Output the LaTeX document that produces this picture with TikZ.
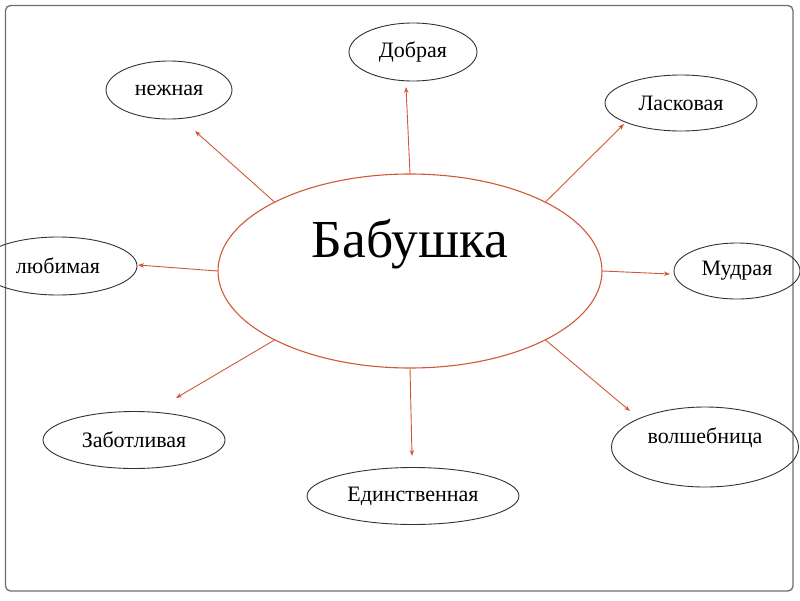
\documentclass[tikz,border=0pt]{standalone}
\usepackage{fontspec}
\setmainfont{Liberation Serif}
\usetikzlibrary{shapes.geometric,arrows.meta}
\definecolor{arrowred}{RGB}{208,88,56}
\definecolor{framegray}{RGB}{110,110,110}
\definecolor{outline}{RGB}{50,50,50}
\begin{document}
\begin{tikzpicture}[x=1pt,y=-1pt,
  wordfont/.style={font=\fontsize{22}{26}\selectfont},
  word/.style={ellipse,draw=outline,line width=0.9pt,inner sep=0pt,wordfont},
  centre/.style={ellipse,draw=arrowred,line width=1.1pt,inner sep=0pt},
  link/.style={draw=arrowred,line width=0.9pt,-{Stealth[length=6pt,width=4.5pt]}}]
\useasboundingbox (0,0) rectangle (800,600);
\draw[framegray,line width=1.3pt,rounded corners=5pt] (5.5,5.5) rectangle (793,591);

\node[centre,minimum width=384pt,minimum height=194pt,
  label={[font=\fontsize{53.5}{60}\selectfont,yshift=27pt]center:Бабушка}] (c) at (410,271) {};

\node[word,minimum width=128pt,minimum height=58pt] (dob) at (413,52) {Добрая};
\node[word,minimum width=126pt,minimum height=58pt] (nezh) at (169,90) {нежная};
\node[word,minimum width=152pt,minimum height=56pt] (lask) at (681,103) {Ласковая};
\node[word,minimum width=126pt,minimum height=56pt] (mudr) at (737,271) {Мудрая};
\node[word,minimum width=158pt,minimum height=58pt] (lyub) at (58,266) {любимая};
\node[word,minimum width=182pt,minimum height=57pt] (zab) at (134,440) {Заботливая};
\node[word,minimum width=212pt,minimum height=57pt] (edin) at (413,496) {Единственная};
\node[word,minimum width=187pt,minimum height=80pt,
  label={[wordfont,yshift=9pt]center:волшебница}] (vol) at (705,447) {};

\coordinate (tdob) at (406,87);
\coordinate (tnezh) at (195,131);
\coordinate (tlask) at (624,124);
\coordinate (tmudr) at (670,274);
\coordinate (tlyub) at (138,265);
\coordinate (tzab) at (176,398);
\coordinate (tedin) at (412,456);
\coordinate (tvol) at (630,411);

\draw[link] (c.90) -- (tdob);
\draw[link] (c.153) -- (tnezh);
\draw[link] (c.27) -- (tlask);
\draw[link] (c.0) -- (tmudr);
\draw[link] (c.180) -- (tlyub);
\draw[link] (c.207) -- (tzab);
\draw[link] (c.270) -- (tedin);
\draw[link] (c.333) -- (tvol);
\end{tikzpicture}
\end{document}
